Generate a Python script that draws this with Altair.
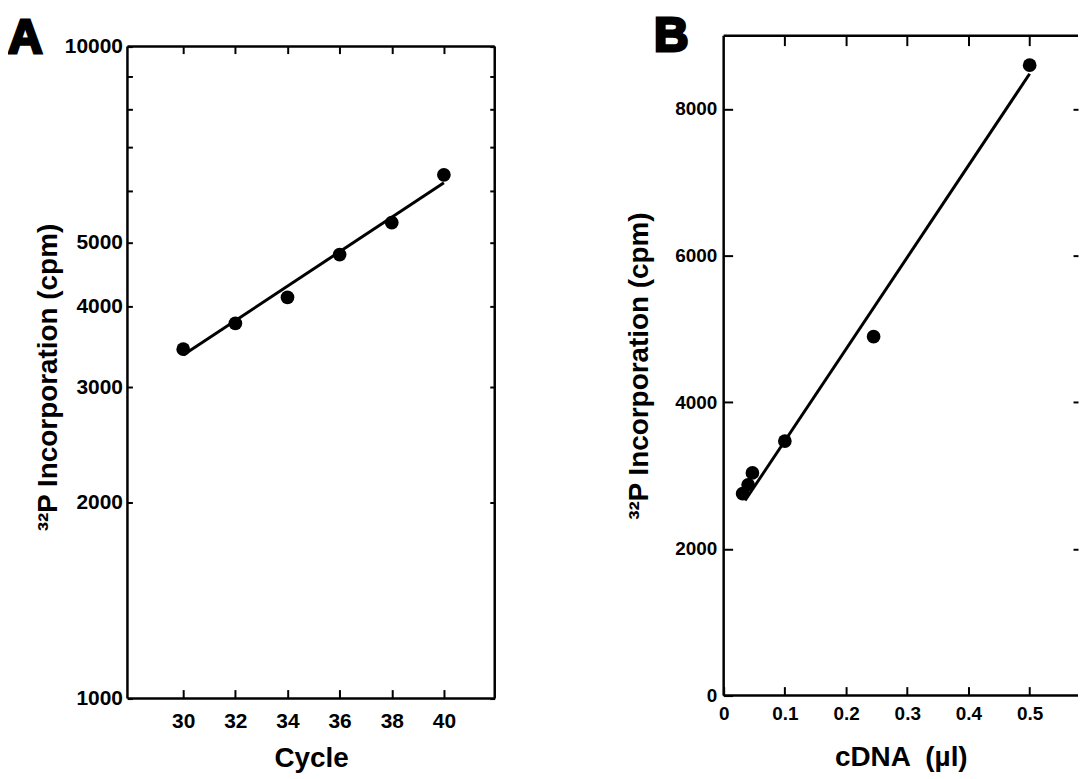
import altair as alt
import pandas as pd

# ---------------- data ----------------
# Panel A (log y)
cycles = [30, 32, 34, 36, 38, 40]
cpm_a = [3435, 3763, 4125, 4797, 5370, 6357]
fit_a_cycles = [30, 40]
fit_a_cpm = [3365, 6180]

# Panel B (linear)
cdna = [0.031, 0.040, 0.047, 0.10, 0.245, 0.50]
cpm_b = [2753, 2875, 3037, 3471, 4895, 8597]
fit_b_cdna = [0.035, 0.50]
fit_b_cpm = [2660, 8480]

panel_labels = ["A", "B"]
a_x_ticks = [30, 32, 34, 36, 38, 40]
a_y_ticks = [1000, 2000, 3000, 4000, 5000, 6000, 7000, 8000, 9000, 10000]
a_y_labels = [1000, 2000, 3000, 4000, 5000, 10000]
b_x_ticks = [0, 0.1, 0.2, 0.3, 0.4, 0.5]
b_x_top_ticks = [0.1, 0.2, 0.3, 0.4, 0.5]
b_y_ticks = [0, 2000, 4000, 6000, 8000]
b_y_right_ticks = [2000, 4000, 6000, 8000]
a_x_domain = [27.86, 41.95]
a_frame_y = [1000, 10000]          # the drawn frame of panel A
a_y_domain = [1000, 10394]         # plot area slightly taller than the frame (aligns with B)
b_x_domain = [0, 0.579]
b_y_domain = [0, 9000]

y_title = "³²P Incorporation (cpm)"
a_x_title = "Cycle"
b_x_title = "cDNA \u00a0(µl)"

FONT = "Liberation Sans"

df_a = pd.DataFrame({"x": cycles, "y": cpm_a})
df_fit_a = pd.DataFrame({"x": fit_a_cycles, "y": fit_a_cpm})
df_b = pd.DataFrame({"x": cdna, "y": cpm_b})
df_fit_b = pd.DataFrame({"x": fit_b_cdna, "y": fit_b_cpm})
one = pd.DataFrame({"d": [0]})

BORDER = 2.5
PT = 190

# ---------------- panel A ----------------
xs_a = alt.Scale(domain=a_x_domain, nice=False, zero=False)
ys_a = alt.Scale(type="log", domain=a_y_domain, nice=False)

lab_list = ",".join(str(v) for v in a_y_labels)
ax_a_left = alt.Axis(
    orient="left", values=a_y_ticks, offset=-5, tickSize=5,
    labelExpr=f"indexof([{lab_list}], datum.value) >= 0 ? format(datum.value, 'd') : ''",
    labelPadding=5, labelFontSize=21,
    titleFontSize=28, titleAngle=270, titleBaseline="middle", titleAlign="center",
    titleX=-84, titleY=343,
)
ax_a_bottom = alt.Axis(
    orient="bottom", values=a_x_ticks, offset=-9, tickSize=9, format="d",
    labelPadding=12, labelFontSize=21,
    titleFontSize=28, titleBaseline="alphabetic", titleAlign="center", titleY=77,
)

pts_a = alt.Chart(df_a).mark_circle(size=PT, color="black", opacity=1).encode(
    x=alt.X("x:Q", scale=xs_a, axis=ax_a_bottom, title=a_x_title),
    y=alt.Y("y:Q", scale=ys_a, axis=ax_a_left, title=y_title),
)
line_a = alt.Chart(df_fit_a).mark_line(color="black", strokeWidth=3).encode(
    x=alt.X("x:Q", scale=xs_a, axis=ax_a_bottom, title=a_x_title),
    y=alt.Y("y:Q", scale=ys_a, axis=ax_a_left, title=y_title),
)
rule_style = dict(color="black", strokeWidth=BORDER)
borders_a = [
    alt.Chart(one).mark_rule(**rule_style).encode(
        x=alt.datum(a_x_domain[0]), y=alt.datum(a_frame_y[0]), y2=alt.datum(a_frame_y[1])),
    alt.Chart(one).mark_rule(**rule_style).encode(
        x=alt.datum(a_x_domain[1]), y=alt.datum(a_frame_y[0]), y2=alt.datum(a_frame_y[1])),
    alt.Chart(one).mark_rule(**rule_style).encode(y=alt.datum(a_frame_y[0])),
    alt.Chart(one).mark_rule(**rule_style).encode(y=alt.datum(a_frame_y[1])),
]
letter_style = dict(align="left", baseline="top", font=FONT, fontSize=48,
                    fontWeight="bold", color="black", stroke="black", strokeWidth=3)
letter_a = alt.Chart(pd.DataFrame({"t": [panel_labels[0]]})).mark_text(**letter_style).encode(
    text="t:N", x=alt.value(-120), y=alt.value(-21))

inner_a = alt.layer(*borders_a, line_a, pts_a, letter_a)

carrier_a = alt.Chart(df_a).mark_point(opacity=0).encode(
    x=alt.X("x:Q", scale=xs_a, title=None,
            axis=alt.Axis(orient="top", values=a_x_ticks, offset=-18, tickSize=7, labels=False)),
    y=alt.Y("y:Q", scale=ys_a, title=None,
            axis=alt.Axis(orient="right", values=a_y_ticks, offset=-5, tickSize=5, labels=False)),
)

panel_a = alt.layer(inner_a, carrier_a).resolve_scale(
    x="independent", y="independent").properties(width=369, height=666)

# ---------------- panel B ----------------
xs_b = alt.Scale(domain=b_x_domain, nice=False, zero=False)
ys_b = alt.Scale(domain=b_y_domain, nice=False, zero=False)

ax_b_left = alt.Axis(
    orient="left", values=b_y_ticks, offset=-9, tickSize=9, format="d",
    labelPadding=7, labelFontSize=19,
    titleFontSize=28, titleAngle=270, titleBaseline="middle", titleAlign="center",
    titleX=-94,
)
ax_b_bottom = alt.Axis(
    orient="bottom", values=b_x_ticks, offset=-9, tickSize=9, format="~g",
    labelPadding=9, labelFontSize=19,
    titleFontSize=28, titleBaseline="alphabetic", titleAlign="center", titleY=79,
)

pts_b = alt.Chart(df_b).mark_circle(size=PT, color="black", opacity=1).encode(
    x=alt.X("x:Q", scale=xs_b, axis=ax_b_bottom, title=b_x_title),
    y=alt.Y("y:Q", scale=ys_b, axis=ax_b_left, title=y_title),
)
line_b = alt.Chart(df_fit_b).mark_line(color="black", strokeWidth=3).encode(
    x=alt.X("x:Q", scale=xs_b, axis=ax_b_bottom, title=b_x_title),
    y=alt.Y("y:Q", scale=ys_b, axis=ax_b_left, title=y_title),
)
borders_b = [
    alt.Chart(one).mark_rule(**rule_style).encode(x=alt.datum(b_x_domain[0])),
    alt.Chart(one).mark_rule(**rule_style).encode(y=alt.datum(b_y_domain[0])),
    alt.Chart(one).mark_rule(**rule_style).encode(y=alt.datum(b_y_domain[1])),
]
letter_b = alt.Chart(pd.DataFrame({"t": [panel_labels[1]]})).mark_text(**letter_style).encode(
    text="t:N", x=alt.value(-70), y=alt.value(-23))

inner_b = alt.layer(*borders_b, line_b, pts_b, letter_b)

carrier_b = alt.Chart(df_b).mark_point(opacity=0).encode(
    x=alt.X("x:Q", scale=xs_b, title=None,
            axis=alt.Axis(orient="top", values=b_x_top_ticks, offset=-10, tickSize=10, labels=False)),
    y=alt.Y("y:Q", scale=ys_b, title=None,
            axis=alt.Axis(orient="right", values=b_y_right_ticks, offset=-5, tickSize=5, labels=False)),
)

panel_b = alt.layer(inner_b, carrier_b).resolve_scale(
    x="independent", y="independent").properties(width=356, height=663)

chart = alt.hconcat(panel_a, panel_b, spacing=129).properties(
    padding={"left": 0, "top": 3, "right": 0, "bottom": 0},
    background="white",
).configure_view(strokeWidth=0).configure_axis(
    labelFont=FONT, labelFontWeight="bold", labelColor="black",
    titleFont=FONT, titleFontWeight="bold", titleColor="black",
    tickColor="black", tickWidth=2, grid=False, domain=False,
    labelOverlap=False, labelFlush=False, minExtent=0,
)

chart.save("out.html", embed_options={"renderer": "svg", "actions": False})
